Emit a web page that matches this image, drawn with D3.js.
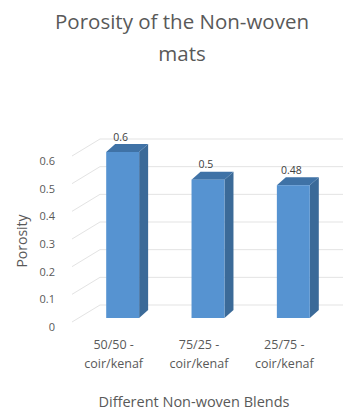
<!DOCTYPE html>
<html><head><meta charset="utf-8">
<script src="https://cdn.jsdelivr.net/npm/d3@7"></script>
<style>html,body{margin:0;padding:0;background:#fff;}svg{display:block;}</style>
</head><body>
<script>
const categories = [["50/50 -", "coir/kenaf"], ["75/25 -", "coir/kenaf"], ["25/75 -", "coir/kenaf"]];
const porosity = [0.6, 0.5, 0.48];
const valueLabels = ["0.6", "0.5", "0.48"];
const yTicks = [0, 0.1, 0.2, 0.3, 0.4, 0.5, 0.6];
const titleLines = ["Porosity of the Non-woven", "mats"];
const xTitle = "Different Non-woven Blends";
const yTitle = "Porosity";

const W = 347, H = 413;
const svg = d3.select("body").append("svg").attr("width", W).attr("height", H);
const font = "'Open Sans', sans-serif";
const gray = "#595959";

const y = d3.scaleLinear().domain([0, 0.6]).range([318, 152]);
const x = d3.scaleBand().domain(d3.range(categories.length)).range([80, 336]).paddingInner(0.614).paddingOuter(0.307);

// 3D wall offsets
const wallDx = 28, wallDy = -13;
const wallLeft = 100, wallRight = 343;

// back wall gridlines
svg.append("g").selectAll("line.grid").data(yTicks).join("line")
  .attr("x1", wallLeft).attr("x2", wallRight)
  .attr("y1", d => y(d) + wallDy).attr("y2", d => y(d) + wallDy)
  .attr("stroke", "#e3e3e3").attr("stroke-width", 1);
// side wall diagonals
svg.append("g").selectAll("line.diag").data(yTicks).join("line")
  .attr("x1", wallLeft - wallDx).attr("y1", d => y(d) + 4)
  .attr("x2", wallLeft).attr("y2", d => y(d) + wallDy)
  .attr("stroke", "#e3e3e3").attr("stroke-width", 1);

// y tick labels
svg.append("g").selectAll("text").data(yTicks).join("text")
  .attr("x", 55).attr("y", d => y(d) + 9).attr("dy", "0.35em")
  .attr("text-anchor", "end").attr("font-family", font).attr("font-size", 11)
  .attr("fill", gray).text(d => d3.format("~g")(d));

// bars
const dx = 9, dy = -8;
const bars = svg.append("g").selectAll("g").data(porosity).join("g");
bars.append("path") // side
  .attr("d", (d, i) => {
    const x1 = x(i) + x.bandwidth(), t = y(d), b = y(0);
    return `M${x1},${t} L${x1 + dx},${t + dy} L${x1 + dx},${b + dy} L${x1},${b} Z`;
  }).attr("fill", "#3b6a98");
bars.append("path") // top
  .attr("d", (d, i) => {
    const x0 = x(i), x1 = x0 + x.bandwidth(), t = y(d);
    return `M${x0},${t} L${x0 + dx},${t + dy} L${x1 + dx},${t + dy} L${x1},${t} Z`;
  }).attr("fill", "#3f72a6");
bars.append("rect") // front
  .attr("x", (d, i) => x(i)).attr("y", d => y(d))
  .attr("width", x.bandwidth()).attr("height", d => y(0) - y(d))
  .attr("fill", "#5693d1");

// value labels
svg.append("g").selectAll("text").data(porosity).join("text")
  .attr("x", (d, i) => x(i) + x.bandwidth() / 2 - 2).attr("y", d => y(d) - 15).attr("dy", "0.35em")
  .attr("text-anchor", "middle").attr("font-family", font).attr("font-size", 10.5)
  .attr("fill", "#404040").text((d, i) => valueLabels[i]);

// category labels
const cat = svg.append("g").selectAll("text").data(categories).join("text")
  .attr("text-anchor", "middle").attr("font-family", font).attr("font-size", 12.5).attr("fill", gray);
cat.each(function(d, i) {
  const t = d3.select(this);
  d.forEach((line, j) => {
    t.append("tspan").attr("x", x(i) + x.bandwidth() / 2 - 9).attr("y", 345 + j * 19).attr("dy", "0.35em").text(line);
  });
});

// axis titles
svg.append("text").attr("x", 194).attr("y", 402).attr("dy", "0.35em").attr("text-anchor", "middle")
  .attr("font-family", font).attr("font-size", 14.5).attr("fill", gray).text(xTitle);
svg.append("text").attr("transform", "translate(22,241) rotate(-90)").attr("dy", "0.35em").attr("text-anchor", "middle")
  .attr("font-family", font).attr("font-size", 14).attr("fill", gray).text(yTitle);

// title
svg.append("g").selectAll("text").data(titleLines).join("text")
  .attr("x", 182).attr("y", (d, i) => 22 + i * 32).attr("dy", "0.35em").attr("text-anchor", "middle")
  .attr("font-family", font).attr("font-size", 20.5).attr("fill", gray).text(d => d);
</script>
</body></html>
